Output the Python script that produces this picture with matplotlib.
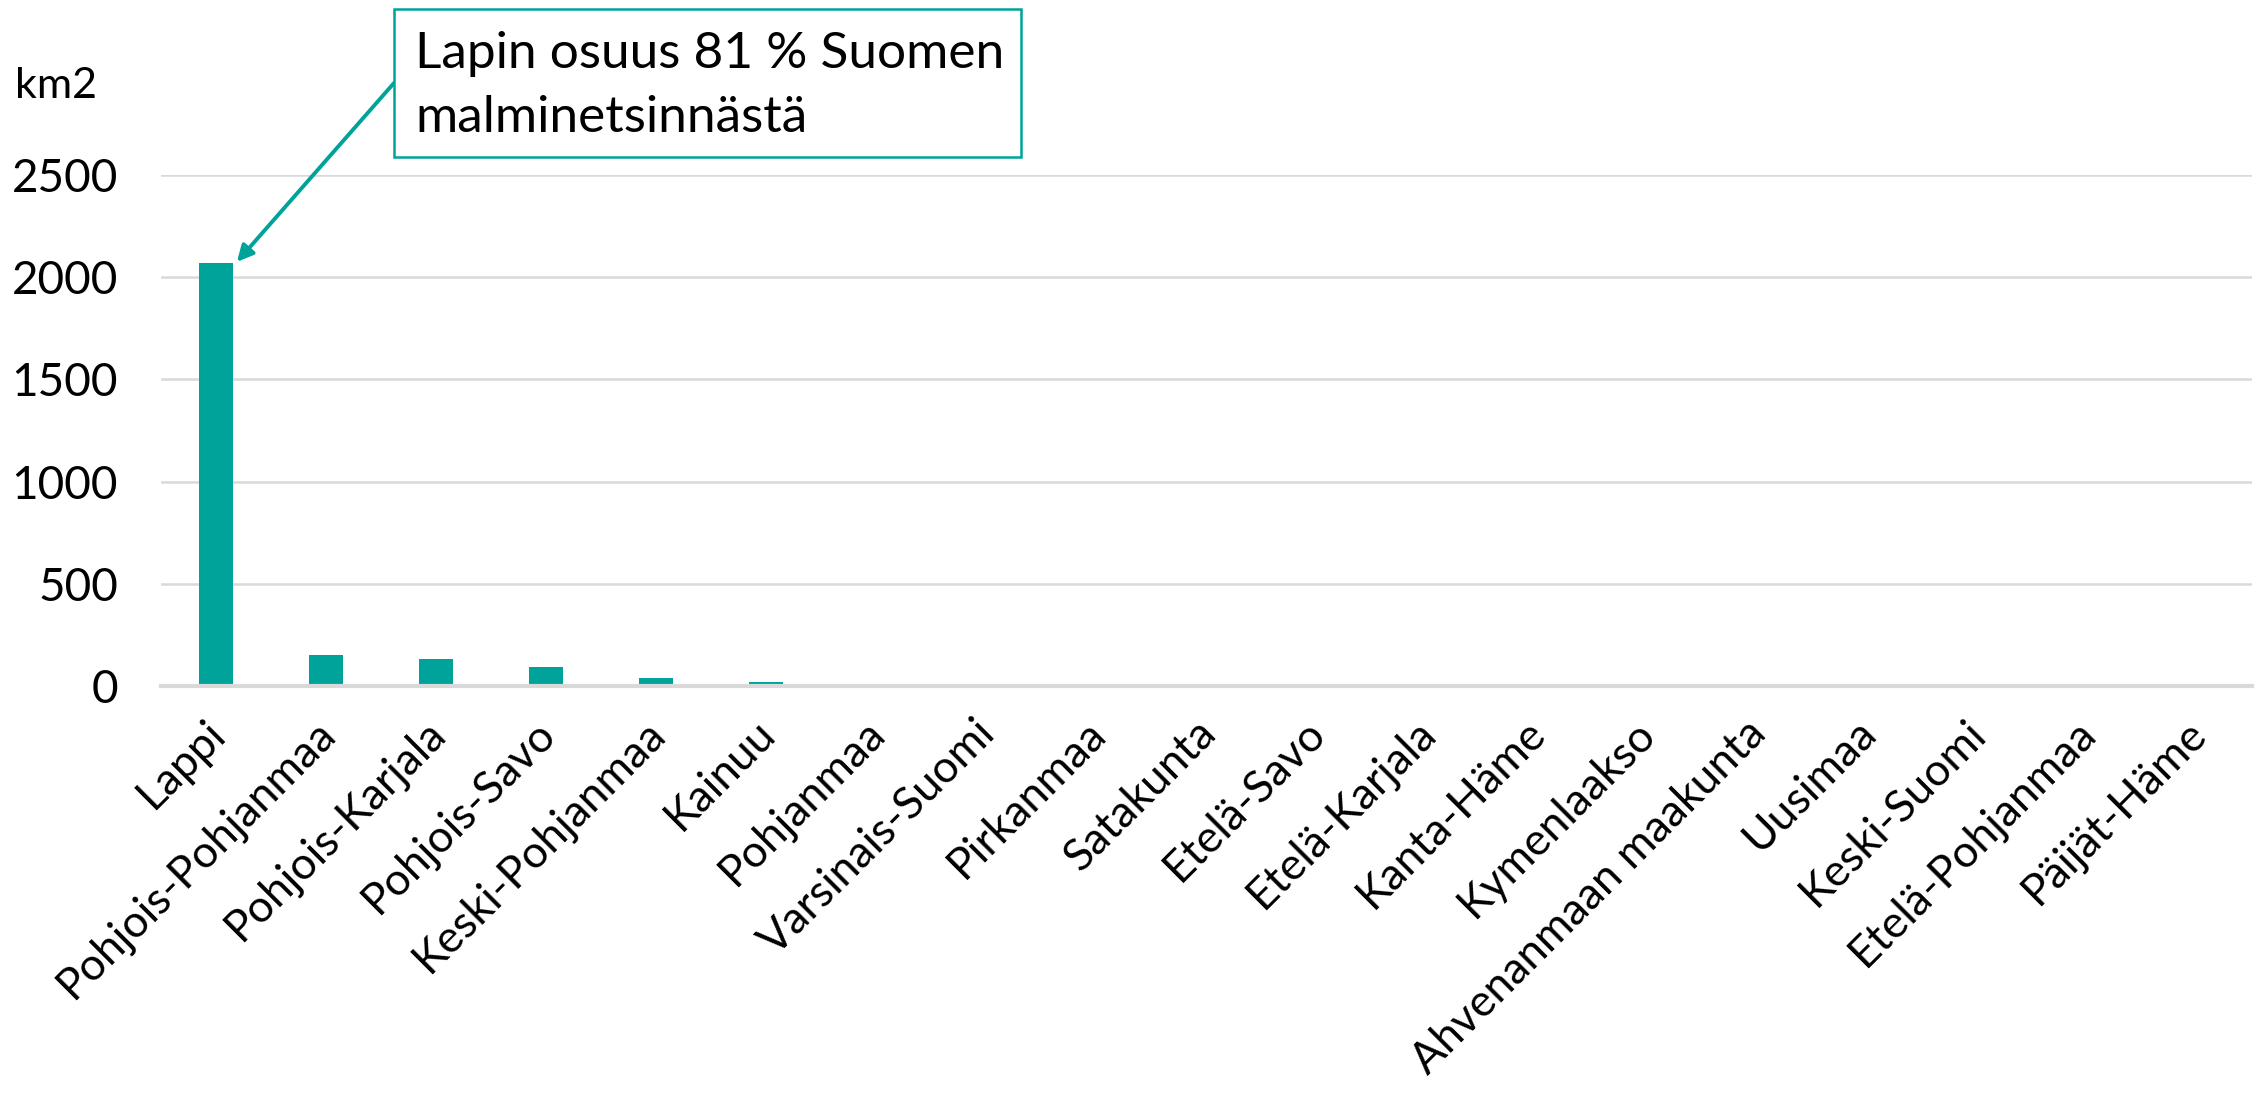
import matplotlib
matplotlib.use("Agg")
import matplotlib.pyplot as plt
import matplotlib.transforms as mtransforms
from matplotlib.patches import Rectangle

regions = ["Lappi", "Pohjois-Pohjanmaa", "Pohjois-Karjala", "Pohjois-Savo",
           "Keski-Pohjanmaa", "Kainuu", "Pohjanmaa", "Varsinais-Suomi",
           "Pirkanmaa", "Satakunta", "Etelä-Savo", "Etelä-Karjala",
           "Kanta-Häme", "Kymenlaakso", "Ahvenanmaan maakunta", "Uusimaa",
           "Keski-Suomi", "Etelä-Pohjanmaa", "Päijät-Häme"]
area_km2 = [2070, 152, 132, 93, 39, 20, 6, 3, 0, 0, 0, 0, 0, 0, 0, 0, 0, 0, 0]
y_ticks = [0, 500, 1000, 1500, 2000, 2500]
unit_label = "km2"
note_lines = ["Lapin osuus 81 % Suomen", "malminetsinnästä"]

teal = "#00A39A"
plt.rcParams['font.family'] = ['Lato', 'DejaVu Sans']

W, H = 2257, 1096
fig = plt.figure(figsize=(W / 100, H / 100), dpi=100)
ax = fig.add_axes([161 / W, (H - 686) / H, (2252 - 161) / W, (686 - 175) / H])

def fx(px):
    return px / W

def fy(py):
    return 1 - py / H

x = range(len(regions))
ax.bar(x, area_km2, width=0.31, color=teal, zorder=3)
ax.set_xlim(-0.5, len(regions) - 0.5)
ax.set_ylim(0, 2500)
ax.set_yticks(y_ticks)
ax.set_yticklabels([str(v) for v in y_ticks], fontsize=33)
ax.set_xticks(list(x))
ax.set_xticklabels(regions, rotation=45, ha='right', rotation_mode='anchor', fontsize=32)
ax.tick_params(axis='both', length=0)
ax.tick_params(axis='x', pad=21)
ax.tick_params(axis='y', pad=31)
offset = mtransforms.ScaledTranslation(-0.12, 0.03, fig.dpi_scale_trans)
for lbl in ax.get_xticklabels():
    lbl.set_transform(lbl.get_transform() + offset)
ax.grid(axis='y', color='#d9d9d9', linewidth=1.8, zorder=0)
for s in ['top', 'right', 'left']:
    ax.spines[s].set_visible(False)
ax.spines['bottom'].set_color('#d9d9d9')
ax.spines['bottom'].set_linewidth(3)
ax.spines['bottom'].set_zorder(4)

fig.text(fx(15), fy(86), unit_label, fontsize=31, va='center', ha='left')

# annotation box
fig.patches.append(Rectangle((fx(394), fy(157)), fx(1021) - fx(394), fy(9) - fy(157),
                             transform=fig.transFigure, facecolor='white',
                             edgecolor=teal, linewidth=1.8, zorder=5))
fig.text(fx(415), fy(68), note_lines[0], fontsize=37, va='baseline', ha='left', zorder=6)
fig.text(fx(415), fy(132), note_lines[1], fontsize=37, va='baseline', ha='left', zorder=6)

ax.annotate("", xy=(0.19, 2075), xycoords='data',
            xytext=(fx(394), fy(83)), textcoords='figure fraction',
            arrowprops=dict(arrowstyle='-|>', color=teal, lw=2.8, mutation_scale=24,
                            shrinkA=0, shrinkB=0),
            annotation_clip=False, zorder=5)

fig.savefig("out.png", dpi=100)
